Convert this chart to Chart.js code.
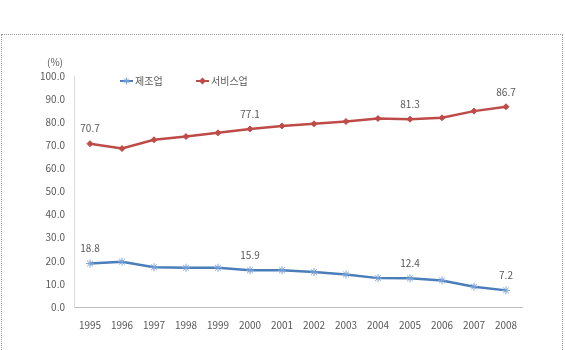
<!DOCTYPE html>
<html>
<head>
<meta charset="utf-8">
<script src="https://cdn.jsdelivr.net/npm/chart.js@4/dist/chart.umd.min.js"></script>
<style>
  html, body { margin: 0; padding: 0; background: #fff; }
  #wrap { position: relative; width: 565px; height: 350px; overflow: hidden; }
  #frame { position: absolute; left: 1px; top: 34px; width: 560px; height: 340px; border: 1px dotted #9a9a9a; }
  canvas { position: absolute; left: 0; top: 0; }
</style>
</head>
<body>
<div id="wrap">
  <div id="frame"></div>
  <canvas id="chart" width="565" height="350"></canvas>
</div>
<script>
// values
const years = ['1995', '1996', '1997', '1998', '1999', '2000', '2001', '2002', '2003', '2004', '2005', '2006', '2007', '2008'];
const manufacturing = [18.8, 19.6, 17.2, 17.0, 17.0, 15.9, 15.9, 15.1, 14.1, 12.5, 12.4, 11.5, 8.8, 7.2];
const services = [70.7, 68.6, 72.4, 73.8, 75.4, 77.1, 78.4, 79.3, 80.3, 81.6, 81.3, 81.9, 84.8, 86.7];
const labelledYears = [0, 5, 10, 13];
const seriesNames = ['제조업', '서비스업'];

const FONT = "'Noto Sans CJK KR', 'Noto Sans', sans-serif";
const TEXT = '#595959';

// value labels above selected points
const valueLabels = {
    id: 'valueLabels',
    afterDatasetsDraw(chart) {
        const ctx = chart.ctx;
        ctx.save();
        ctx.font = '10px ' + FONT;
        ctx.fillStyle = TEXT;
        ctx.textAlign = 'center';
        ctx.textBaseline = 'middle';
        chart.data.datasets.forEach((ds, i) => {
            const meta = chart.getDatasetMeta(i);
            labelledYears.forEach(idx => {
                const pt = meta.data[idx];
                ctx.fillText(ds.data[idx].toFixed(1), pt.x, pt.y - 15);
            });
        });
        ctx.restore();
    }
};

// legend inside the plot, plus the (%) unit
const insideLegend = {
    id: 'insideLegend',
    afterDraw(chart) {
        const ctx = chart.ctx;
        const area = chart.chartArea;
        ctx.save();
        ctx.font = '10px ' + FONT;
        ctx.fillStyle = TEXT;
        ctx.textBaseline = 'middle';
        ctx.textAlign = 'center';
        ctx.fillText('(%)', area.left - 19, area.top - 14);

        const starts = [120, 196];
        const y = area.top + 5;
        chart.data.datasets.forEach((ds, i) => {
            const x0 = starts[i];
            ctx.strokeStyle = ds.borderColor;
            ctx.lineWidth = 2;
            ctx.beginPath();
            ctx.moveTo(x0, y);
            ctx.lineTo(x0 + 13, y);
            ctx.stroke();
            if (ds.pointStyle === 'rectRot') {
                ctx.fillStyle = ds.borderColor;
                ctx.beginPath();
                ctx.moveTo(x0 + 6.5, y - 3.5);
                ctx.lineTo(x0 + 10, y);
                ctx.lineTo(x0 + 6.5, y + 3.5);
                ctx.lineTo(x0 + 3, y);
                ctx.fill();
            } else {
                ctx.strokeStyle = ds.pointBorderColor;
                ctx.lineWidth = 1;
                Chart.helpers.drawPoint(ctx, {
                    pointStyle: 'star',
                    radius: 3.5,
                    borderWidth: 1
                }, x0 + 6.5, y);
            }
            ctx.fillStyle = TEXT;
            ctx.textAlign = 'left';
            ctx.fillText(ds.label, x0 + 15, y);
        });
        ctx.restore();
    }
};

new Chart(document.getElementById('chart'), {
    type: 'line',
    data: {
        labels: years,
        datasets: [
            {
                label: seriesNames[0],
                data: manufacturing,
                borderColor: '#4a7ebb',
                backgroundColor: '#4a7ebb',
                borderWidth: 2.5,
                pointStyle: 'star',
                pointRadius: 4,
                pointBorderWidth: 1,
                pointBorderColor: '#7aa3d6',
                tension: 0
            },
            {
                label: seriesNames[1],
                data: services,
                borderColor: '#be4b48',
                backgroundColor: '#be4b48',
                borderWidth: 2.5,
                pointStyle: 'rectRot',
                pointRadius: 3,
                pointBorderWidth: 1,
                tension: 0
            }
        ]
    },
    options: {
        responsive: false,
        animation: false,
        layout: { padding: { top: 76, right: 43, bottom: 0, left: 0 } },
        plugins: {
            legend: { display: false },
            tooltip: { enabled: false }
        },
        scales: {
            x: {
                offset: true,
                grid: { display: false, drawTicks: false },
                border: { display: true, color: '#bfbfbf', width: 1 },
                ticks: { color: TEXT, font: { family: FONT, size: 10 }, padding: 12, maxRotation: 0 },
                afterFit(scale) { scale.height = 43; }
            },
            y: {
                min: 0,
                max: 100,
                grid: { display: false, drawTicks: false },
                border: { display: true, color: '#d9d9d9', width: 1 },
                ticks: {
                    stepSize: 10,
                    color: TEXT,
                    font: { family: FONT, size: 10 },
                    padding: 9,
                    callback: v => v.toFixed(1)
                },
                afterFit(scale) { scale.width = 74; }
            }
        }
    },
    plugins: [valueLabels, insideLegend]
});
</script>
</body>
</html>
